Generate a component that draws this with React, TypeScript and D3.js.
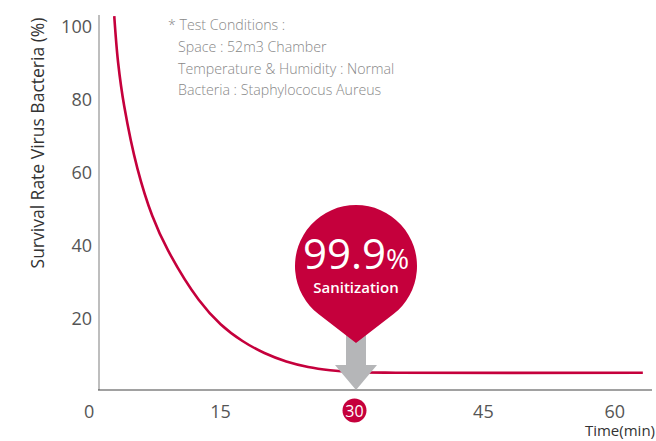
import React from "react";
import * as d3 from "d3";

const times = [2.86, 3.3, 4, 5.5, 7.2, 9, 12.5, 15, 17.5, 20, 22.5, 25, 27.5, 30, 35, 63.2];
const survival = [102.7, 90, 78, 61, 48, 38.5, 25, 18.3, 13.7, 10.4, 8.1, 6.6, 5.7, 5.2, 5.0, 5.0];
const xTicks = [0, 15, 30, 45, 60];
const yTicks = [20, 40, 60, 80, 100];
const conditions = [
  "* Test Conditions :",
  "Space : 52m3 Chamber",
  "Temperature & Humidity : Normal",
  "Bacteria : Staphylococus Aureus",
];
const highlightTime = 30;
const highlightText = "99.9";
const highlightUnit = "%";
const highlightLabel = "Sanitization";
const yTitle = "Survival Rate Virus Bacteria (%)";
const xTitle = "Time(min)";

const RED = "#c5003c";
const FONT = "'Open Sans', 'Noto Sans', sans-serif";

export default function App() {
  const W = 656, H = 441;
  const x = d3.scaleLinear().domain([0, 60]).range([89.2, 614.8]);
  const y = d3.scaleLinear().domain([0, 100]).range([391, 26]);
  const pts = times.map((t, i) => [t, survival[i]] as [number, number]);
  const line = d3
    .line<[number, number]>()
    .x((d) => x(d[0]))
    .y((d) => y(d[1]))
    .curve(d3.curveCatmullRom.alpha(0.5));

  // pin geometry
  const px = x(highlightTime) + 4;
  const r = 61;
  const cy = 266;
  const tipY = 343;
  const dd = tipY - cy;
  const beta = Math.acos(r / dd);
  const tx = r * Math.sin(beta);
  const ty = cy + r * Math.cos(beta);
  const pinPath = `M${px},${tipY} L${px - tx},${ty} A${r},${r} 0 1 1 ${px + tx},${ty} Z`;

  const arrowPath = `M${px - 10},333 L${px + 10},333 L${px + 10},365 L${px + 21},365 L${px},390 L${px - 21},365 L${px - 10},365 Z`;

  return (
    <svg
      width={W}
      height={H}
      style={{ position: "absolute", left: 0, top: 0, background: "#fff" }}
      fontFamily={FONT}
    >
      {/* axes */}
      <line x1={99} x2={99} y1={15} y2={390} stroke="#a8a8a8" strokeWidth={1.5} />
      <line x1={98} x2={652} y1={390} y2={390} stroke="#444" strokeWidth={1.2} />

      {yTicks.map((v) => (
        <text key={v} x={92} y={y(v) + 6.5} textAnchor="end" fontSize={18} fill="#555">
          {v}
        </text>
      ))}
      {xTicks.map((t) =>
        t === highlightTime ? (
          <g key={t}>
            <circle cx={x(t) + 2.5} cy={410.5} r={12} fill={RED} />
            <text x={x(t) + 2.5} y={416.5} textAnchor="middle" fontSize={16} fill="#fff">
              {t}
            </text>
          </g>
        ) : (
          <text key={t} x={x(t)} y={418} textAnchor="middle" fontSize={18} fill="#555">
            {t}
          </text>
        )
      )}
      <text x={655} y={436} textAnchor="end" fontSize={15} fill="#333">
        {xTitle}
      </text>
      <text
        transform={`translate(44,143) rotate(-90)`}
        textAnchor="middle"
        fontSize={17.5}
        fill="#333"
      >
        {yTitle}
      </text>

      {/* conditions */}
      {conditions.map((c, i) => (
        <text
          key={i}
          x={i === 0 ? 168 : 178}
          y={30 + i * 21.8}
          fontSize={14.2}
          fill="#888"
          fontWeight={300}
        >
          {c}
        </text>
      ))}

      {/* curve */}
      <path d={line(pts) || ""} fill="none" stroke={RED} strokeWidth={2.6} />

      {/* arrow */}
      <path d={arrowPath} fill="#b5b6b8" />
      {/* pin */}
      <path d={pinPath} fill={RED} />
      <text x={px} y={268.5} textAnchor="middle" fill="#fff">
        <tspan fontSize={42}>{highlightText}</tspan>
        <tspan fontSize={28}>{highlightUnit}</tspan>
      </text>
      <text x={px} y={293} textAnchor="middle" fill="#fff" fontSize={15} fontWeight={600}>
        {highlightLabel}
      </text>
    </svg>
  );
}
